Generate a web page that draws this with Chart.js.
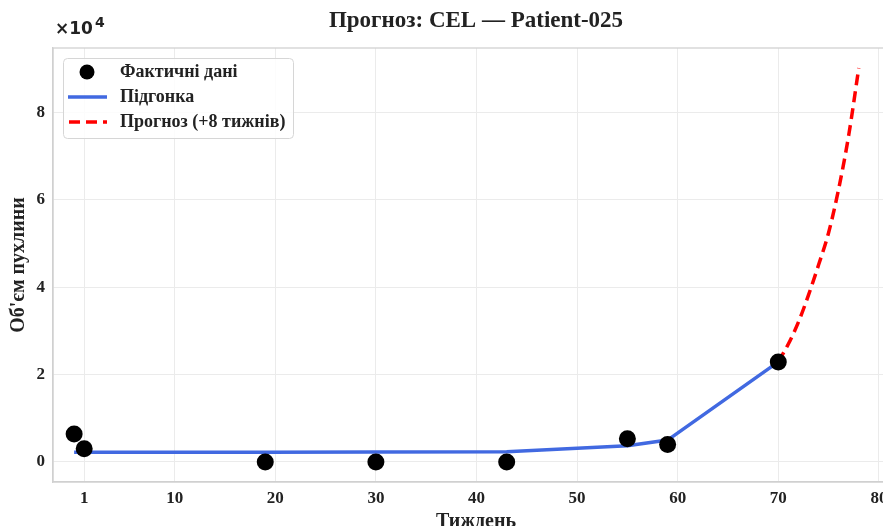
<!DOCTYPE html>
<html>
<head>
<meta charset="utf-8">
<script src="https://cdn.jsdelivr.net/npm/chart.js@4.4.1/dist/chart.umd.min.js"></script>
<style>
  html, body { margin: 0; padding: 0; overflow: hidden; background: #fff; }
  #wrap { width: 952px; height: 526px; }
</style>
</head>
<body>
<div id="wrap"><canvas id="chart" width="952" height="526"></canvas></div>
<script>
// measured tumour volume by week
const actualWeeks = [0, 1, 19, 30, 43, 55, 59, 70];
const actualVolume = [6400, 3000, 0, 0, 0, 5300, 4000, 22900];

// fitted curve at the observed weeks
const fitVolume = [2200, 2200, 2200, 2250, 2350, 3700, 5000, 22900];

// forecast, 8 weeks ahead
const forecastWeeks = [70, 71, 72, 73, 74, 75, 76, 77, 78];
const forecastVolume = [22900, 27000, 32000, 38200, 45100, 52500, 62500, 74800, 90200];

const xTicks = [1, 10, 20, 30, 40, 50, 60, 70, 80];
const yTicks = [0, 20000, 40000, 60000, 80000];

const titleText = 'Прогноз: CEL — Patient-025';
const serif = "'Liberation Serif', 'Times New Roman', serif";
const textColor = '#222';

const toXY = (xs, ys) => xs.map((x, i) => ({ x, y: ys[i] }));

// plot frame, title over the axes, exponent label and legend box
const extras = {
    id: 'extras',
    beforeDatasetsDraw(chart) {
        const { ctx, chartArea: a } = chart;
        ctx.save();
        ctx.strokeStyle = '#d0d0d0';
        ctx.lineWidth = 1.25;
        ctx.strokeRect(a.left, a.top, a.right - a.left, a.bottom - a.top);
        ctx.restore();
    },
    afterDraw(chart) {
        const { ctx, chartArea: a } = chart;
        ctx.save();
        ctx.fillStyle = textColor;
        ctx.textAlign = 'center';
        ctx.textBaseline = 'middle';
        ctx.font = 'bold 23px ' + serif;
        ctx.fillText(titleText, (a.left + a.right) / 2, 21);

        // axis multiplier
        ctx.textBaseline = 'alphabetic';
        ctx.textAlign = 'left';
        ctx.font = "bold 17px 'DejaVu Sans', sans-serif";
        ctx.fillText('×10', 55, 34);
        ctx.font = "bold 14px 'DejaVu Sans', sans-serif";
        ctx.fillText('4', 95, 27);

        // legend
        const bx = 63, by = 58, bw = 230, bh = 80;
        ctx.beginPath();
        ctx.roundRect(bx + 0.5, by + 0.5, bw, bh, 4);
        ctx.fillStyle = 'rgba(255,255,255,0.85)';
        ctx.fill();
        ctx.strokeStyle = '#d6d6d6';
        ctx.lineWidth = 1;
        ctx.stroke();

        ctx.fillStyle = '#000';
        ctx.beginPath();
        ctx.arc(87, 72, 7.5, 0, Math.PI * 2);
        ctx.fill();

        ctx.strokeStyle = '#4169E1';
        ctx.lineWidth = 3.5;
        ctx.beginPath();
        ctx.moveTo(68, 97);
        ctx.lineTo(107, 97);
        ctx.stroke();

        ctx.strokeStyle = '#ff0000';
        ctx.lineWidth = 3.5;
        ctx.setLineDash([11, 6]);
        ctx.beginPath();
        ctx.moveTo(69, 122);
        ctx.lineTo(107, 122);
        ctx.stroke();
        ctx.setLineDash([]);

        ctx.fillStyle = textColor;
        ctx.font = 'bold 18px ' + serif;
        ctx.textBaseline = 'middle';
        ctx.fillText('Фактичні дані', 120, 72);
        ctx.fillText('Підгонка', 120, 97);
        ctx.fillText('Прогноз (+8 тижнів)', 120, 122);
        ctx.restore();
    }
};

new Chart(document.getElementById('chart'), {
    type: 'line',
    data: {
        datasets: [
            {
                label: 'Фактичні дані',
                data: toXY(actualWeeks, actualVolume),
                showLine: false,
                pointRadius: 8.5,
                pointBackgroundColor: '#000',
                pointBorderWidth: 0
            },
            {
                label: 'Підгонка',
                data: toXY(actualWeeks, fitVolume),
                borderColor: '#4169E1',
                borderWidth: 3.5,
                pointRadius: 0,
                tension: 0,
                fill: false
            },
            {
                label: 'Прогноз (+8 тижнів)',
                data: toXY(forecastWeeks, forecastVolume),
                borderColor: '#ff0000',
                borderWidth: 3.5,
                borderDash: [11, 6],
                pointRadius: 0,
                cubicInterpolationMode: 'monotone',
                fill: false
            }
        ]
    },
    options: {
        responsive: false,
        animation: false,
        layout: { padding: { left: 0, right: 53, top: 48, bottom: 0 } },
        plugins: {
            legend: { display: false },
            tooltip: { enabled: false },
            title: { display: false }
        },
        scales: {
            x: {
                type: 'linear',
                min: -2.1,
                max: 82,
                afterBuildTicks: s => { s.ticks = xTicks.map(v => ({ value: v })); },
                afterFit: s => { s.height = 44; },
                grid: { color: '#ebebeb', drawTicks: false },
                border: { color: '#d0d0d0', width: 1.25 },
                ticks: {
                    padding: 6,
                    color: textColor,
                    font: { family: serif, size: 17, weight: 'bold' },
                    callback: v => String(v)
                },
                title: {
                    display: true,
                    text: 'Тиждень',
                    color: textColor,
                    font: { family: serif, size: 20, weight: 'bold', lineHeight: 1 },
                    padding: { top: 0, bottom: -6 }
                }
            },
            y: {
                type: 'linear',
                min: -4600,
                max: 94800,
                afterBuildTicks: s => { s.ticks = yTicks.map(v => ({ value: v })); },
                afterFit: s => { s.width = 53; },
                grid: { color: '#ebebeb', drawTicks: false },
                border: { color: '#d0d0d0', width: 1.25 },
                ticks: {
                    padding: 8,
                    color: textColor,
                    font: { family: serif, size: 17, weight: 'bold' },
                    callback: v => String(v / 10000)
                },
                title: {
                    display: true,
                    text: "Об'єм пухлини",
                    color: textColor,
                    font: { family: serif, size: 20, weight: 'bold', lineHeight: 1 },
                    padding: { top: 9, bottom: 0 }
                }
            }
        }
    },
    plugins: [extras]
});
</script>
</body>
</html>
